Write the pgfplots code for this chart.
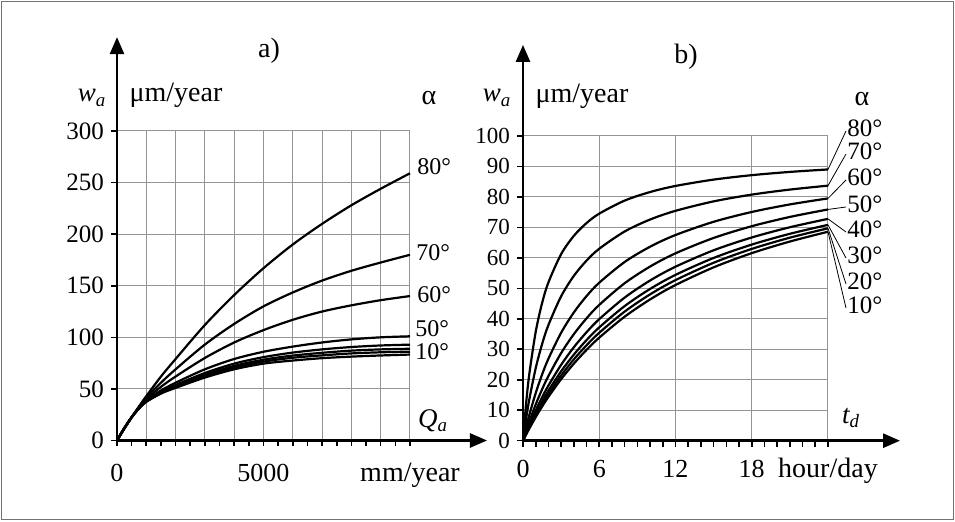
\documentclass[border=0pt]{standalone}
\usepackage{fontspec}
\setmainfont{Liberation Serif}
\usepackage{pgfplots}
\pgfplotsset{compat=1.18}
\usepackage{pgfplotstable}
\usetikzlibrary{arrows.meta}

% pixel position of the reference -> picture coordinates
\newcommand\pp[2]{({(#1)*0.5pt},{(522-(#2))*0.5pt})}
\newcommand\fs[1]{\fontsize{#1}{#1}\selectfont}

% a) w_a against Q_a (mm/year)
\pgfplotstableread{
x     a10  a20  a30  a40  a50  a60  a70   a80
0     0    0    0    0    0    0    0     0
250   12   12   12   12   12   11.5 11.5  11.5
500   22.5 22.5 22.5 22.5 22.5 22.5 22.5  22.5
750   31   31   31.1 31.2 31.5 32   32.5  33
1000  37.5 37.7 37.9 38.2 38.8 40   41.5  43
1500  45.5 45.8 46.3 47.2 48.5 52   56    62
2000  51   51.9 52.7 53.8 56   62   69    79
3000  61   62.4 63.6 65.4 69   80   93    112
4000  69   70.7 72.3 74.5 79   95   113   141
5000  74.5 76.5 78.3 80.8 86   107  130   167
6000  77.5 80.2 82.3 85.2 91   117  143.5 190
7000  79.8 82.5 85   88.3 95   125  155   210
8000  81.3 84.4 87.1 90.6 98   131  164.5 228
9000  82.4 85.5 88.3 92.1 100  136  172.5 244
10000 83.3 86.1 88.9 92.9 101  140  180   259
}\tabA

% b) w_a against t_d (hour/day)
\pgfplotstableread{
t     a10   a20   a30   a40   a50   a60   a70   a80
0     0     0     0     0     0     0     0     0
0.25  2.05  2.20  2.39  2.68  3.26  4.44  7.34  12.43
0.5   4.01  4.31  4.67  5.23  6.32  8.50  13.62 21.99
1     7.73  8.28  8.93  9.94  11.88 15.62 23.79 35.72
1.5   11.18 11.94 12.82 14.21 16.82 21.68 31.67 45.12
2     14.39 15.32 16.41 18.09 21.22 26.90 37.96 51.95
3     20.19 21.39 22.77 24.89 28.75 35.42 47.38 61.22
4     25.28 26.68 28.25 30.66 34.96 42.09 54.09 67.22
5     29.80 31.31 33.01 35.60 40.15 47.45 59.10 71.42
6     33.83 35.42 37.19 39.89 44.57 51.85 63.00 74.52
8     40.70 42.37 44.18 46.97 51.68 58.65 68.66 78.80
10    46.36 48.02 49.80 52.57 57.15 63.66 72.58 81.61
12    51.09 52.70 54.42 57.10 61.49 67.50 75.44 83.60
15    56.89 58.40 59.98 62.49 66.54 71.84 78.54 85.69
18    61.55 62.94 64.36 66.69 70.39 75.06 80.76 87.14
21    65.36 66.63 67.90 70.05 73.43 77.54 82.41 88.21
24    68.58 69.70 70.83 72.80 75.89 79.51 83.70 89.02
}\tabB

\pgfplotsset{
  panel/.style={
    scale only axis, anchor=south west, clip=false,
    axis line style={draw=none},
    tick pos=left, tick align=outside,
    major tick length=3pt, minor tick length=3pt,
    every tick/.append style={black, line width=0.8pt},
    every minor tick/.append style={black, line width=0.8pt},
    grid=major, major grid style={black!42, line width=0.5pt},
    scaled ticks=false,
    /pgf/number format/assume math mode=true,
    cycle list={{black}},
    every axis plot/.append style={black, solid, line width=1.1pt, no marks, smooth},
  },
}
\tikzset{arr/.style={line width=1.3pt, -{Triangle[length=8.5pt,width=7pt]}}}

\begin{document}
\begin{tikzpicture}
\path[use as bounding box] \pp{0}{0} rectangle \pp{955}{522};
\draw[black!55, line width=0.6pt] \pp{1.5}{1.5} rectangle \pp{953.5}{519.5};

% ---- panel a)
\begin{axis}[panel, at={(58.5pt,40.75pt)}, width=146.5pt, height=154.75pt,
  xmin=0, xmax=10000, ymin=0, ymax=300,
  xtick={0,1000,...,10000},
  xticklabels={0,,,,,5000,,,,,{\fs{14}mm/year}},
  minor xtick={500,1500,...,9500},
  ytick={0,50,...,300},
  yticklabel style={font=\fs{12.5}},
  xticklabel style={font=\fs{13}, text height=10pt, text depth=3pt, yshift=-4pt}]
\foreach \c in {a10,a20,a30,a40,a50,a60,a70,a80} {
  \addplot table[x=x, y=\c] {\tabA};
}
\draw[arr] (axis cs:0,0) -- (axis cs:12628,0);
\draw[arr] (axis cs:0,0) -- (axis cs:0,391);
\end{axis}

% ---- panel b)
\begin{axis}[panel, at={(261.5pt,40.65pt)}, width=152.5pt, height=152.35pt,
  xmin=0, xmax=24, ymin=0, ymax=100,
  xtick={0,6,12,18,24},
  xticklabels={0,6,12,18,{\fs{14}hour/day}},
  minor xtick={1,...,23},
  ytick={0,10,...,100},
  yticklabel style={font=\fs{11.5}},
  xticklabel style={font=\fs{13}, text height=10pt, text depth=3pt, yshift=-2pt}]
\foreach \c in {a10,a20,a30,a40,a50,a60,a70,a80} {
  \addplot table[x=t, y=\c] {\tabB};
}
\draw[arr] (axis cs:0,0) -- (axis cs:29.67,0);
\draw[arr] (axis cs:0,0) -- (axis cs:0,129.9);
\coordinate (r80) at (axis cs:24,89.02);
\coordinate (r70) at (axis cs:24,83.70);
\coordinate (r60) at (axis cs:24,79.51);
\coordinate (r50) at (axis cs:24,75.89);
\coordinate (r40) at (axis cs:24,72.80);
\coordinate (r30) at (axis cs:24,70.83);
\coordinate (r20) at (axis cs:24,69.70);
\coordinate (r10) at (axis cs:24,68.58);
\end{axis}

% ---- texts of panel a)
\node[font=\fs{14}] at \pp{269}{51} {a)};
\node[font=\fs{13.5}] at \pp{92}{98} {\itshape w\textsubscript{a}};
\node[font=\fs{14}] at \pp{176}{95} {μm/year};
\node[font=\fs{14}] at \pp{429}{98} {α};
\node[font=\fs{12}, anchor=west, inner sep=0pt] at \pp{417}{167} {80°};
\node[font=\fs{12}, anchor=west, inner sep=0pt] at \pp{416}{253} {70°};
\node[font=\fs{12}, anchor=west, inner sep=0pt] at \pp{417}{295} {60°};
\node[font=\fs{12}, anchor=west, inner sep=0pt] at \pp{415}{329} {50°};
\node[font=\fs{12}, anchor=west, inner sep=0pt] at \pp{415}{352} {10°};
\node[font=\fs{13.5}] at \pp{433}{421} {\itshape Q\textsubscript{a}};

% ---- texts of panel b)
\node[font=\fs{14}] at \pp{686}{57} {b)};
\node[font=\fs{13.5}] at \pp{497}{98} {\itshape w\textsubscript{a}};
\node[font=\fs{14}] at \pp{582}{96} {μm/year};
\node[font=\fs{14}] at \pp{862}{99} {α};
\node[font=\fs{13.5}] at \pp{851}{418} {\itshape t\textsubscript{d}};
\foreach \a/\y in {80/128,70/151,60/177,50/204,40/229,30/255,20/281,10/305} {
  \node[font=\fs{12.5}, anchor=west, inner sep=0pt] at \pp{847}{\y} {\a°};
  \draw[line width=0.4pt] (r\a) -- \pp{846}{\y+3};
}
\end{tikzpicture}
\end{document}
